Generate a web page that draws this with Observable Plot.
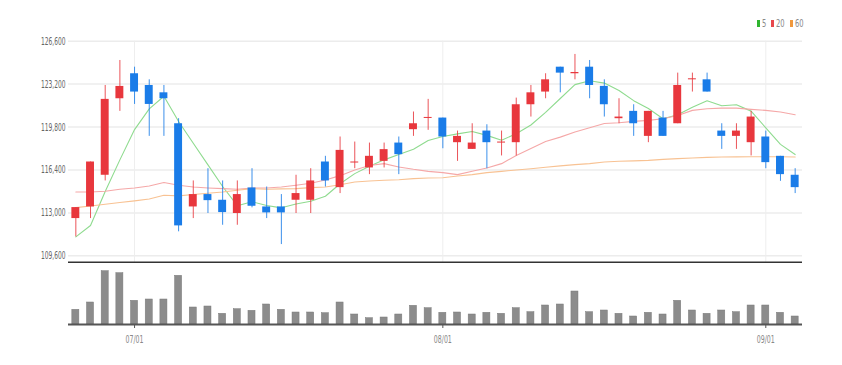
<!DOCTYPE html>
<html>
<head>
<meta charset="utf-8">
<script src="https://cdn.jsdelivr.net/npm/d3@7"></script>
<script src="https://cdn.jsdelivr.net/npm/@observablehq/plot@0.6"></script>
<style>
  body { margin: 0; background: #fff; }
  #wrap { position: relative; width: 842px; height: 365px; font-family: "Liberation Sans Narrow", "DejaVu Sans Condensed", "Liberation Sans", sans-serif; }
  #price { position: absolute; left: 0; top: 0; }
  #vol { position: absolute; left: 0; top: 263px; }
  #legend { position: absolute; left: 757px; top: 18px; font-size: 10px; color: #8a8a8a; display: flex; align-items: center; white-space: nowrap; }
  #legend .sw { display: inline-block; width: 3px; height: 7px; margin-right: 2px; }
  #legend .lb { margin-right: 3px; display: inline-block; transform: scaleX(0.75); transform-origin: left center; }
</style>
</head>
<body>
<div id="wrap">
  <div id="legend"></div>
  <div id="price"></div>
  <div id="vol"></div>
</div>
<script>
// ---- data ----
const open  = [112550,113470,115980,122040,124020,123090,122510,120060,113470,114450,
               114000,112950,114975,113470,113470,114000,114000,117030,115000,116950,
               116560,117080,118530,119590,120480,120510,118560,118030,119480,118530,
               118560,121565,122570,124540,124020,124540,123020,120460,121040,119060,
               120510,120060,123540,123540,119480,119060,118560,119010,117480,115980];
const high  = [113420,117030,123090,125070,124540,123540,123090,120460,115530,116500,
               115530,115530,116500,115050,114450,115980,116500,117480,119010,118610,
               118530,118530,119010,120990,121990,120510,119480,120060,119980,119480,
               122090,123090,124020,124540,125550,125070,123540,122040,121565,121040,
               121040,124070,124070,124070,120060,120060,121040,119480,117480,116500];
const low   = [111100,112550,115530,121040,121590,119060,119060,111500,112550,112950,
               112020,112020,113400,112550,110490,112950,112950,115050,114530,116500,
               116030,116560,116030,119060,119540,118080,117080,118030,116500,117510,
               117510,120590,122040,122510,123540,122040,120590,120060,119060,118560,
               119060,120060,122570,122570,118030,118030,117510,116500,115500,114530];
const close = [113420,117030,121990,123015,122570,121590,122040,111970,114450,113970,
               113025,114450,113525,113000,113000,114530,115530,115530,117950,117030,
               117480,118010,117610,120060,120560,119010,119060,118530,118560,118610,
               121565,122510,123540,124070,124120,123090,121565,120590,120060,121040,
               119060,123090,123620,122570,119060,119480,120590,116980,116030,115000];
const volume = [147000,220000,533000,513000,237000,250000,250000,487000,170000,180000,
                107000,153000,137000,200000,147000,120000,120000,113000,220000,100000,
                 63000, 70000,100000,187000,163000,117000,120000,100000,117000,107000,
                163000,123000,190000,200000,330000,123000,140000,107000, 80000,117000,
                100000,237000,140000,107000,140000,123000,190000,190000,117000, 80000];
const ma5  = [111100,112000,114700,117200,119600,121240,122240,120240,118520,116800,
              115090,113570,113880,113590,113400,113700,113920,114320,115310,116110,
              116700,117200,117620,118040,118740,119050,119260,119440,119140,118750,
              119270,119960,120960,122060,123160,123470,123280,122690,121890,121270,
              120460,120770,121370,121880,121480,121560,121060,119740,118430,117620];
const ma20 = [114660,114660,114710,114870,114975,115130,115400,115190,115050,114975,
              114920,114870,114975,114975,115050,115190,115350,115600,115950,116400,
              116750,116900,116640,116450,116290,116190,116030,116300,116560,116900,
              117550,118100,118650,119000,119400,119750,120080,120140,120250,120330,
              120460,120720,121120,121250,121300,121300,121200,121120,120990,120770];
const ma60 = [113420,113550,113680,113820,113950,114100,114400,114350,114450,114550,
              114650,114790,114920,114870,114900,114920,115000,115050,115230,115450,
              115530,115580,115630,115710,115760,115780,115920,116030,116190,116290,
              116400,116500,116610,116720,116820,116900,117030,117090,117120,117160,
              117240,117300,117350,117400,117430,117440,117450,117450,117450,117430];
const yTicks = [109600,113000,116400,119800,123200,126600];
const tickIdx = [4, 25, 47];
const tickLabels = ["07/01","08/01","09/01"];
const maLabels = ["5","20","60"];
const maLegendColors = ["#2fb52f","#e8474c","#f0983c"];
const maLineColors = ["#8fdb8f","#f5a8a8","#f8c293"];

// ---- build ----
const UP = "#e8373d", DOWN = "#1a7ce8";
const idx = d3.range(open.length);
const candles = idx.map(i => ({i, o: open[i], h: high[i], l: low[i], c: close[i],
  col: close[i] >= open[i] ? UP : DOWN}));
const xDomain = [-0.5, open.length - 0.5];
const xRange = [68, 802];
const yDomain = [109070, 127050];
const font = '"Liberation Sans Narrow", "DejaVu Sans Condensed", "Liberation Sans", sans-serif';

function condense(svg, perChar, color) {
  svg.querySelectorAll("text").forEach(t => {
    const s = t.textContent;
    t.setAttribute("fill", color);
    t.setAttribute("textLength", (s.length * perChar).toFixed(1));
    t.setAttribute("lengthAdjust", "spacingAndGlyphs");
  });
}

const mas = [ma5, ma20, ma60];
const price = Plot.plot({
  width: 842, height: 263,
  marginLeft: 68, marginRight: 40, marginTop: 0, marginBottom: 0,
  style: {fontFamily: font, fontSize: "11px", background: "transparent", color: "#666"},
  x: {domain: xDomain, range: xRange, axis: null},
  y: {domain: yDomain, range: [262, 35], ticks: yTicks, tickFormat: d3.format(","), tickSize: 0, tickPadding: 3},
  marks: [
    Plot.ruleY(yTicks, {stroke: "#ececec", strokeWidth: 1.5}),
    Plot.ruleX(tickIdx, {x: d => d, y1: yTicks[yTicks.length - 1], y2: yDomain[0], stroke: "#eeeeee", strokeWidth: 1}),
    ...mas.map((arr, k) => Plot.line(idx, {x: d => d, y: d => arr[d], stroke: maLineColors[k], strokeWidth: 1.1})),
    Plot.ruleX(candles, {x: "i", y1: "l", y2: "h", stroke: "col", strokeWidth: 1, strokeOpacity: 0.85}),
    Plot.rect(candles, {x1: d => d.i - 0.27, x2: d => d.i + 0.27, y1: "o", y2: "c", fill: "col"}),
    Plot.ruleY([yDomain[0]], {stroke: "#333", strokeWidth: 2})
  ]
});
condense(price, 3.5, "#666");
document.getElementById("price").appendChild(price);

const vol = Plot.plot({
  width: 842, height: 93,
  marginLeft: 68, marginRight: 40, marginTop: 0, marginBottom: 32,
  style: {fontFamily: font, fontSize: "11px", background: "transparent", color: "#555"},
  x: {domain: xDomain, range: xRange, ticks: tickIdx, tickFormat: d => tickLabels[tickIdx.indexOf(d)], tickSize: 4, tickPadding: 7},
  y: {domain: [0, 620000], range: [61, -1], axis: null},
  marks: [
    Plot.rect(idx, {x1: d => d - 0.24, x2: d => d + 0.24, y1: 0, y2: d => volume[d], fill: "#8c8c8c", stroke: "#7a7a7a", strokeWidth: 0.5}),
    Plot.ruleY([0], {stroke: "#555", strokeWidth: 2})
  ]
});
condense(vol, 3.6, "#888");
document.getElementById("vol").appendChild(vol);

// legend
const lg = document.getElementById("legend");
maLabels.forEach((lab, k) => {
  const sw = document.createElement("span");
  sw.className = "sw"; sw.style.background = maLegendColors[k];
  const tx = document.createElement("span");
  tx.className = "lb"; tx.textContent = lab;
  lg.appendChild(sw); lg.appendChild(tx);
});
</script>
</body>
</html>
